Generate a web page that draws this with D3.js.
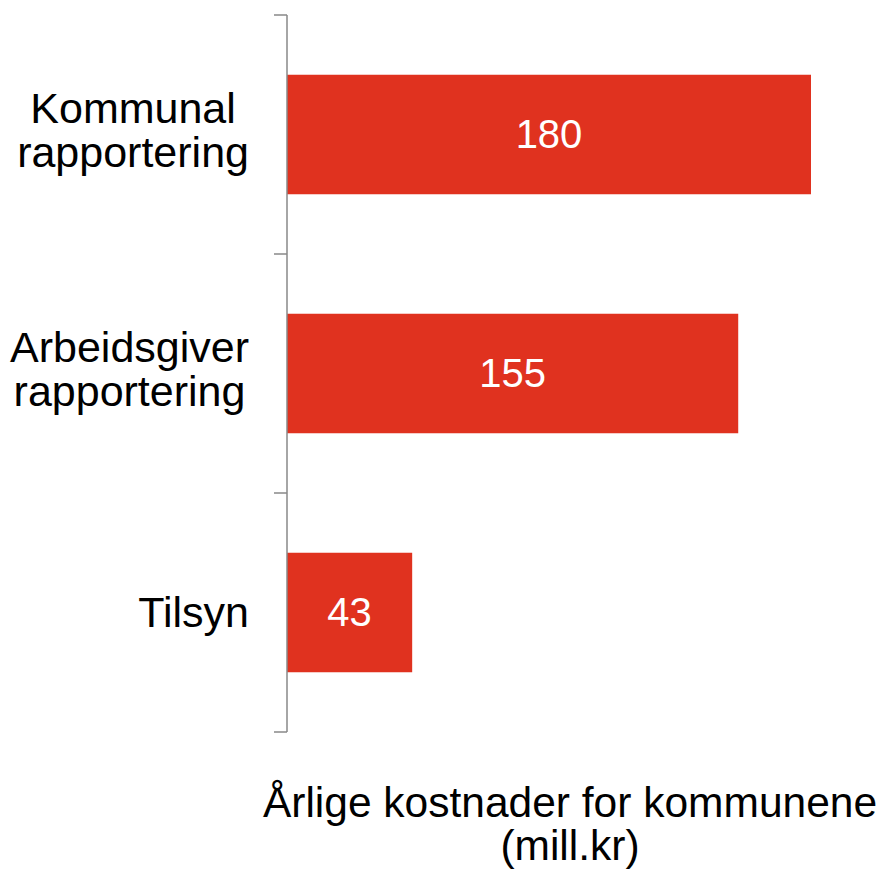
<!DOCTYPE html>
<html>
<head>
<meta charset="utf-8">
<script src="https://cdn.jsdelivr.net/npm/d3@7"></script>
<style>
  body { margin: 0; background: #fff; }
  text { font-family: "Liberation Sans", Arial, sans-serif; }
</style>
</head>
<body>
<svg id="chart" width="884" height="875"></svg>
<script>
// Data
var categories = ["Kommunal rapportering", "Arbeidsgiver rapportering", "Tilsyn"];
var categoryLines = [["Kommunal", "rapportering"], ["Arbeidsgiver", "rapportering"], ["Tilsyn"]];
var values = [180, 155, 43];
var axisTitle = ["Årlige kostnader for kommunene", "(mill.kr)"];

var svg = d3.select("#chart");

// Scales
var x = d3.scaleLinear()
    .domain([0, d3.max(values)])
    .range([287, 811]);

var y = d3.scaleBand()
    .domain(categories)
    .range([15, 732])
    .paddingInner(0.5)
    .paddingOuter(0.25);

// Bars
svg.selectAll("rect.bar")
    .data(values)
    .enter().append("rect")
    .attr("class", "bar")
    .attr("x", x(0))
    .attr("y", function(d, i) { return y(categories[i]); })
    .attr("width", function(d) { return x(d) - x(0); })
    .attr("height", y.bandwidth())
    .style("fill", "#e0321f");

// Value labels inside the bars
svg.selectAll("text.value")
    .data(values)
    .enter().append("text")
    .attr("class", "value")
    .attr("x", function(d) { return (x(0) + x(d)) / 2; })
    .attr("y", function(d, i) { return y(categories[i]) + y.bandwidth() / 2; })
    .attr("dy", "0.34em")
    .attr("text-anchor", "middle")
    .style("font-size", "40px")
    .style("fill", "#fff")
    .text(function(d) { return d; });

// Category axis: line with ticks between bands
var axisTop = 15, axisBottom = 732;
var axis = svg.append("g");
axis.append("line")
    .attr("x1", x(0)).attr("x2", x(0))
    .attr("y1", axisTop).attr("y2", axisBottom)
    .style("stroke", "#888").style("stroke-width", 1.5);

var tickYs = d3.range(categories.length + 1).map(function(i) { return axisTop + i * (axisBottom - axisTop) / categories.length; });
axis.selectAll("line.tick")
    .data(tickYs)
    .enter().append("line")
    .attr("class", "tick")
    .attr("x1", x(0) - 13).attr("x2", x(0))
    .attr("y1", function(d) { return d; }).attr("y2", function(d) { return d; })
    .style("stroke", "#888").style("stroke-width", 1.5);

// Category labels: block right aligned to the axis, lines centred inside it
var lineH = 44, labelRight = 249;
categories.forEach(function(c, i) {
    var lines = categoryLines[i];
    var cy = y(c) + y.bandwidth() / 2;
    var t = svg.append("text")
        .attr("text-anchor", "middle")
        .style("font-size", "43px")
        .style("fill", "#000");
    var spans = lines.map(function(l, j) {
        return t.append("tspan")
            .attr("y", cy + (j - (lines.length - 1) / 2) * lineH - (lines.length - 1) * 4)
            .attr("dy", "0.34em")
            .text(l);
    });
    var maxW = d3.max(spans, function(s) { return s.node().getComputedTextLength(); });
    spans.forEach(function(s) { s.attr("x", labelRight - maxW / 2); });
});

// Value axis title
var title = svg.append("text")
    .attr("text-anchor", "middle")
    .style("font-size", "42.5px")
    .style("fill", "#000");
axisTitle.forEach(function(l, j) {
    title.append("tspan")
        .attr("x", 570)
        .attr("y", 817 + j * 43)
        .text(l);
});
</script>
</body>
</html>
